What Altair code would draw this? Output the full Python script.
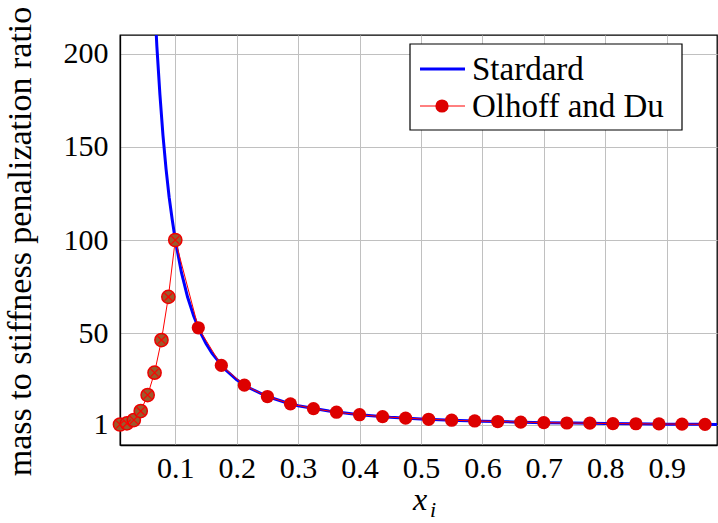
import altair as alt
import pandas as pd

# Standard (SIMP) ratio curve
std_x = [0.06, 0.065, 0.07, 0.075, 0.08, 0.085, 0.09, 0.095, 0.1, 0.11, 0.12, 0.13,
         0.14, 0.15, 0.16, 0.18, 0.2, 0.22, 0.25, 0.28, 0.3, 0.35, 0.4, 0.45, 0.5,
         0.55, 0.6, 0.65, 0.7, 0.75, 0.8, 0.85, 0.9, 0.95, 0.982]
std_y = [278, 237, 204, 178, 156, 138, 123, 111, 100, 82.6, 69.4, 59.2,
         51.0, 44.4, 39.1, 30.9, 25.0, 20.7, 16.0, 12.8, 11.1, 8.2, 6.25, 4.9, 4.0,
         3.3, 2.8, 2.4, 2.0, 1.8, 1.6, 1.4, 1.2, 1.1, 1.04]

# Olhoff and Du: low-density part (x <= 0.1) and the rest
low_x = [0.01, 0.02125, 0.0325, 0.04375, 0.055, 0.06625, 0.0775, 0.08875, 0.1]
low_y = [1.0, 1.6, 3.4, 8.2, 16.8, 28.8, 46.3, 69.5, 100.0]
high_x = [0.1375, 0.175, 0.2125, 0.25, 0.2875, 0.325, 0.3625, 0.4, 0.4375, 0.475,
          0.5125, 0.55, 0.5875, 0.625, 0.6625, 0.7, 0.7375, 0.775, 0.8125, 0.85,
          0.8875, 0.925, 0.9625]
high_y = [52.9, 32.7, 22.1, 16.0, 12.1, 9.5, 7.6, 6.25, 5.2, 4.4,
          3.8, 3.3, 2.9, 2.6, 2.3, 2.0, 1.8, 1.7, 1.5, 1.4,
          1.3, 1.2, 1.1]

x_ticks = [0.1, 0.2, 0.3, 0.4, 0.5, 0.6, 0.7, 0.8, 0.9]
y_ticks = [1, 50, 100, 150, 200]
legend_labels = ["Stardard", "Olhoff and Du"]

FONT = "Liberation Serif"
W, H = 597, 410

std_df = pd.DataFrame({"x": std_x, "y": std_y})
low_df = pd.DataFrame({"x": low_x, "y": low_y})
high_df = pd.DataFrame({"x": high_x, "y": high_y})
od_df = pd.concat([low_df, high_df], ignore_index=True)

xs = alt.Scale(domain=[0.01, 0.982], nice=False, zero=False)
ys = alt.Scale(domain=[-10, 210], nice=False, zero=False)

xax = alt.Axis(values=x_ticks, format=".1f", grid=True, gridColor="#c0c0c0",
               gridWidth=1, ticks=False, domainColor="black", domainWidth=1.3,
               labelFont=FONT, labelFontSize=30, labelColor="black", labelPadding=8,
               title=None)
yax = alt.Axis(values=y_ticks, grid=True, gridColor="#c0c0c0", gridWidth=1,
               ticks=False, domainColor="black", domainWidth=1.3,
               labelFont=FONT, labelFontSize=30, labelColor="black", labelPadding=12,
               title="mass to stiffness penalization ratio", titleFont=FONT,
               titleFontSize=34, titleFontWeight="normal", titleColor="black",
               titleX=-100, titleY=206, titleAngle=-90, titleBaseline="middle")

X = alt.X("x:Q", scale=xs, axis=xax)
Y = alt.Y("y:Q", scale=ys, axis=yax)

std_line = alt.Chart(std_df).mark_line(color="#0000ff", strokeWidth=3, clip=True).encode(x=X, y=Y)
od_line = alt.Chart(od_df).mark_line(color="#ff0000", strokeWidth=1).encode(x=X, y=Y)
low_pts = alt.Chart(low_df).mark_point(filled=True, shape="circle", size=175,
                                       fill="#9b5a2c", stroke="#ee0000", strokeWidth=1.5,
                                       opacity=1).encode(x=X, y=Y)
low_x_marks = alt.Chart(low_df).mark_point(shape="M-1,-1L1,1M1,-1L-1,1", size=60,
                                           filled=False, stroke="#ff0000", strokeWidth=1.2,
                                           opacity=1).encode(x=X, y=Y)
high_pts = alt.Chart(high_df).mark_point(filled=True, shape="circle", size=175,
                                         color="#dd0000", opacity=1).encode(x=X, y=Y)

# legend (drawn by hand)
leg_df = pd.DataFrame({"label": legend_labels})
leg_box = alt.Chart(leg_df.head(1)).mark_rect(fill="white", stroke="black", strokeWidth=1.2).encode(
    x=alt.value(290), x2=alt.value(562), y=alt.value(9), y2=alt.value(95))
leg_blue = alt.Chart(leg_df.head(1)).mark_rule(color="#0000ff", strokeWidth=3).encode(
    x=alt.value(300), x2=alt.value(345), y=alt.value(34))
leg_red = alt.Chart(leg_df.head(1)).mark_rule(color="#ff0000", strokeWidth=1).encode(
    x=alt.value(300), x2=alt.value(345), y=alt.value(71))
leg_dot = alt.Chart(leg_df.head(1)).mark_point(filled=True, shape="circle", size=175,
                                              color="#dd0000", opacity=1).encode(
    x=alt.value(322), y=alt.value(71))
leg_t1 = alt.Chart(leg_df.iloc[[0]]).mark_text(font=FONT, fontSize=33, align="left",
                                              baseline="middle", color="black").encode(
    x=alt.value(352), y=alt.value(35), text="label:N")
leg_t2 = alt.Chart(leg_df.iloc[[1]]).mark_text(font=FONT, fontSize=33, align="left",
                                              baseline="middle", color="black").encode(
    x=alt.value(352), y=alt.value(72), text="label:N")

# x-axis title x_i
xt_df = pd.DataFrame({"t": ["x"], "s": ["i"]})
xt = alt.Chart(xt_df).mark_text(font=FONT, fontSize=32, fontStyle="italic", align="center",
                                baseline="alphabetic", color="black").encode(
    x=alt.value(300), y=alt.value(475), text="t:N")
xs_t = alt.Chart(xt_df).mark_text(font=FONT, fontSize=22, fontStyle="italic", align="left",
                                  baseline="alphabetic", color="black").encode(
    x=alt.value(310), y=alt.value(482), text="s:N")

chart = alt.layer(std_line, od_line, low_pts, low_x_marks, high_pts,
                  leg_box, leg_blue, leg_red, leg_dot, leg_t1, leg_t2, xt, xs_t).properties(
    width=W, height=H,
    autosize=alt.AutoSizeParams(type="none"),
    padding={"left": 120, "top": 35, "right": 1, "bottom": 78},
).configure_view(stroke="black", strokeWidth=1.3)

chart.save("out.html", embed_options={"renderer": "svg", "actions": False})
